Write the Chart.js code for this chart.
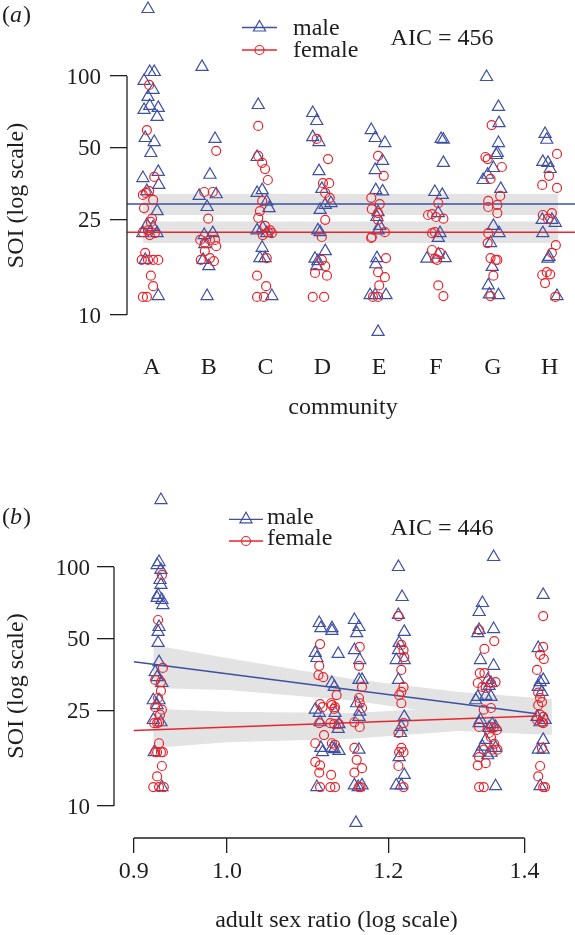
<!DOCTYPE html>
<html>
<head>
<meta charset="utf-8">
<script src="https://cdn.jsdelivr.net/npm/chart.js@4.4.1/dist/chart.umd.min.js"></script>
<style>
  html, body { margin: 0; padding: 0; background: #fff; }
  #wrap { position: relative; width: 575px; height: 935px; overflow: hidden; }
  canvas { position: absolute; left: 0; display: block; }
  #panelA { top: 0; }
  #panelB { top: 440px; }
</style>
</head>
<body>
<div id="wrap">
  <canvas id="panelA" width="575" height="440"></canvas>
  <canvas id="panelB" width="575" height="495"></canvas>
</div>
<script>
// ---- data ----
const communities = ['A', 'B', 'C', 'D', 'E', 'F', 'G', 'H'];
const soiTicks = [10, 25, 50, 100];
const ratioTicks = [0.9, 1.0, 1.2, 1.4];

// panel (a): [community position (1 = A ... 8 = H, with jitter), SOI]
const maleByCommunity = [
  [0.93,190.6],[0.96,103.9],[1.04,103.9],[0.86,95.3],[1.02,87.4],[0.93,81.7],[0.96,74.9],[0.86,72.1],[1.11,73.5],[1.09,67.4],[0.88,55.0],[1.04,52.9],[0.98,47.6],[1.11,39.7],[0.84,37.4],[1.12,35.0],[0.91,33.0],[1.09,27.2],[0.91,23.8],[1.02,23.3],[0.84,22.0],[1.09,22.0],[0.88,17.0],[1.11,12.0],
  [1.88,109.1],[2.11,54.5],[2.02,38.6],[1.83,31.5],[2.13,32.0],[1.97,28.3],[1.92,21.6],[2.07,22.0],[1.93,19.8],[1.90,17.0],[2.00,16.0],[1.97,12.0],
  [2.87,75.6],[2.85,45.8],[2.85,32.4],[2.94,33.3],[3.02,29.8],[3.06,28.0],[2.85,22.6],[2.95,23.1],[3.02,22.0],[2.94,19.1],[2.90,17.3],[2.99,17.3],[3.11,12.0],
  [3.83,70.0],[3.90,64.8],[3.83,55.5],[3.94,52.9],[3.94,40.0],[3.99,33.7],[4.15,29.4],[3.96,27.5],[4.05,28.9],[3.92,22.6],[3.96,22.2],[4.05,18.5],[3.87,17.2],[3.92,16.8],[3.90,16.0],
  [4.86,59.4],[4.93,55.0],[5.10,52.4],[5.06,44.1],[4.93,40.4],[4.94,33.3],[5.06,32.9],[4.98,26.9],[4.96,25.7],[5.01,23.6],[4.98,22.6],[4.96,17.3],[4.94,16.3],[4.84,12.1],[4.93,12.1],[5.12,12.1],[4.98,8.5],
  [6.09,54.5],[6.13,54.1],[6.13,43.3],[5.98,32.7],[6.11,31.8],[6.04,26.7],[6.07,22.0],[6.04,21.0],[5.84,17.2],[6.04,17.9],[6.16,17.3],
  [6.89,99.0],[7.10,74.2],[7.11,63.5],[7.10,52.4],[7.08,47.6],[7.06,46.7],[7.01,41.2],[6.83,36.7],[6.91,38.6],[7.14,33.7],[7.01,23.6],[7.11,22.0],[6.96,20.0],[6.99,15.9],[6.92,13.3],[6.94,12.2],[7.10,12.1],
  [7.92,57.2],[7.95,54.1],[7.88,43.7],[7.97,43.3],[8.01,40.8],[7.87,25.0],[8.04,25.0],[8.10,24.3],[7.88,22.0],[7.99,17.5],[7.97,17.2],[8.13,12.0]
];
const femaleByCommunity = [
  [0.95,91.7],[0.91,59.4],[1.04,37.8],[0.95,33.0],[0.89,32.4],[0.84,31.8],[1.02,30.3],[0.86,28.0],[1.00,25.3],[0.98,24.5],[0.84,22.2],[0.93,22.6],[1.05,22.0],[0.96,21.6],[0.88,18.2],[0.82,17.0],[0.93,17.0],[1.02,17.0],[1.11,17.0],[0.98,14.6],[1.02,13.2],[0.84,11.9],[0.91,11.9],
  [2.13,48.6],[1.92,32.7],[2.07,32.7],[1.99,25.3],[1.85,20.6],[1.93,20.0],[2.02,20.6],[2.11,20.6],[2.13,19.4],[1.93,18.5],[1.86,17.0],[2.02,17.3],[2.09,16.8],
  [2.87,61.8],[2.87,46.3],[2.94,43.3],[2.99,40.8],[3.04,36.7],[2.94,30.0],[2.90,27.2],[2.87,25.5],[2.99,23.6],[3.08,22.6],[3.11,22.0],[2.95,21.6],[3.04,22.2],[3.02,17.3],[2.85,14.6],[3.01,13.2],[2.85,11.9],[2.97,11.9],
  [3.90,54.5],[4.10,44.9],[4.01,35.6],[4.12,35.6],[4.05,32.4],[4.13,30.9],[4.05,25.0],[3.99,21.2],[3.99,17.0],[4.05,16.0],[3.87,15.0],[4.08,14.6],[3.83,11.9],[4.03,11.9],
  [4.98,46.3],[5.08,38.2],[4.86,30.9],[5.01,29.1],[4.87,27.7],[4.98,26.7],[4.98,25.0],[5.10,22.2],[4.87,21.2],[4.86,21.0],[5.12,17.3],[4.98,15.1],[5.10,14.4],[5.00,13.3],[4.89,11.9],[4.98,11.9],
  [6.04,29.4],[5.86,26.2],[5.93,26.4],[6.00,25.7],[6.13,25.3],[5.93,22.0],[5.98,22.2],[5.93,18.7],[6.07,18.2],[6.02,17.0],[5.98,17.2],[6.04,13.3],[6.13,12.0],
  [6.98,62.3],[6.87,45.8],[6.91,44.9],[7.16,41.6],[6.96,37.1],[7.13,31.5],[6.92,30.0],[7.08,28.9],[6.92,28.3],[7.08,26.7],[6.92,22.0],[6.91,20.0],[6.96,17.3],[7.05,17.0],[7.08,17.0],[7.01,14.6],[6.96,12.0],
  [8.13,47.2],[7.99,38.2],[7.87,35.0],[8.13,34.0],[7.88,26.2],[8.04,26.7],[7.97,25.3],[8.11,19.6],[8.04,18.2],[7.87,14.7],[7.95,15.1],[8.01,14.8],[7.92,13.6],[8.10,11.9]
];
// panel (a) model: fitted level and 95% band (male, female)
const commFitSpan = [0.56, 8.45];
const commBandSpan = [0.84, 8.15];
const commFitMale = 29.1, commFitFemale = 22.2;
const commBandMale = [26.2, 32.1];
const commBandFemale = [20.0, 24.6];

// panel (b): [adult sex ratio (with jitter), SOI]
const maleByRatio = [
  [0.928,190.6],[0.926,104.9],[0.924,101.9],[0.928,97.2],[0.927,88.2],[0.928,84.1],[0.925,76.4],[0.924,74.2],[0.929,72.8],[0.930,69.3],[0.926,56.1],[0.925,53.5],[0.925,48.1],[0.926,40.0],[0.922,36.3],[0.924,34.6],[0.929,32.7],[0.920,27.7],[0.926,27.7],[0.924,26.4],[0.920,22.9],[0.928,22.4],[0.921,16.8],[0.929,12.0],
  [1.110,58.3],[1.112,55.5],[1.105,43.7],[1.107,41.6],[1.105,25.3],[1.110,24.5],[1.111,22.4],[1.112,17.5],[1.114,16.8],[1.107,12.0],
  [1.126,55.5],[1.126,54.0],[1.134,43.3],[1.126,32.7],[1.129,31.5],[1.130,24.5],[1.135,22.0],[1.134,21.0],[1.126,17.5],[1.129,17.3],[1.135,17.0],
  [1.155,60.0],[1.161,56.1],[1.158,52.9],[1.155,44.9],[1.162,40.8],[1.161,33.7],[1.165,33.7],[1.158,26.9],[1.162,24.8],[1.161,23.6],[1.161,17.2],[1.155,12.2],[1.165,12.2],[1.160,12.0],[1.157,8.5],
  [1.214,100.0],[1.219,74.9],[1.214,63.0],[1.222,53.5],[1.215,48.1],[1.214,44.9],[1.211,40.8],[1.222,40.8],[1.214,33.7],[1.222,23.6],[1.218,21.4],[1.217,20.2],[1.215,16.0],[1.222,13.5],[1.211,12.2],[1.218,12.2],
  [1.335,70.7],[1.330,64.8],[1.330,54.5],[1.328,52.9],[1.332,40.8],[1.343,33.7],[1.328,28.6],[1.325,27.7],[1.340,28.9],[1.330,22.2],[1.332,22.9],[1.340,18.9],[1.335,17.7],[1.330,16.7],[1.343,16.3],
  [1.352,110.1],[1.352,55.0],[1.352,38.6],[1.348,32.7],[1.345,31.8],[1.348,28.6],[1.350,22.0],[1.355,21.4],[1.345,21.2],[1.355,17.5],[1.348,16.7],[1.355,12.1],
  [1.430,76.4],[1.422,45.8],[1.430,33.7],[1.425,33.0],[1.422,31.5],[1.428,30.0],[1.420,23.6],[1.433,22.9],[1.425,22.4],[1.430,18.9],[1.422,17.2],[1.430,17.2],[1.425,12.1]
];
const femaleByRatio = [
  [0.929,92.6],[0.925,60.0],[0.930,37.8],[0.922,33.7],[0.928,33.0],[0.928,30.3],[0.925,28.3],[0.922,25.9],[0.929,25.3],[0.927,24.1],[0.924,22.2],[0.926,22.4],[0.921,22.2],[0.926,18.3],[0.924,16.8],[0.928,16.8],[0.922,16.8],[0.930,16.8],[0.929,14.7],[0.924,13.3],[0.920,12.0],[0.926,12.0],[0.931,12.0],
  [1.111,47.6],[1.110,38.6],[1.109,35.3],[1.115,34.6],[1.111,26.7],[1.114,25.9],[1.110,22.2],[1.116,19.8],[1.105,18.3],[1.105,15.3],[1.111,14.8],[1.110,13.8],[1.111,12.0],
  [1.132,29.1],[1.126,26.4],[1.125,26.9],[1.129,25.5],[1.130,25.9],[1.124,22.2],[1.129,22.0],[1.135,22.0],[1.126,18.3],[1.130,18.0],[1.125,13.5],[1.124,12.0],[1.130,12.0],
  [1.162,46.3],[1.161,38.6],[1.165,31.5],[1.161,28.3],[1.162,26.9],[1.165,25.7],[1.155,22.4],[1.162,21.4],[1.155,17.5],[1.158,15.6],[1.165,14.4],[1.155,13.8],[1.161,12.0],[1.163,12.0],
  [1.214,62.3],[1.218,47.2],[1.221,44.9],[1.222,42.0],[1.218,37.1],[1.221,31.5],[1.218,30.0],[1.215,29.1],[1.218,26.9],[1.221,22.2],[1.214,20.2],[1.218,17.5],[1.215,16.8],[1.221,16.8],[1.214,14.7],[1.221,12.0],
  [1.330,54.5],[1.338,45.4],[1.331,36.0],[1.338,36.0],[1.328,32.7],[1.335,31.5],[1.340,31.2],[1.337,25.3],[1.330,21.4],[1.337,17.2],[1.330,16.0],[1.340,15.1],[1.328,14.8],[1.330,12.0],[1.337,12.0],
  [1.353,49.0],[1.355,33.0],[1.348,32.7],[1.348,25.7],[1.348,21.4],[1.352,21.2],[1.357,20.8],[1.348,19.4],[1.345,20.2],[1.353,18.2],[1.350,17.2],[1.358,17.2],
  [1.430,62.3],[1.430,46.3],[1.425,42.9],[1.431,41.2],[1.420,37.1],[1.422,29.8],[1.425,28.3],[1.428,27.2],[1.422,26.4],[1.425,24.1],[1.430,23.6],[1.420,22.9],[1.428,22.4],[1.430,22.2],[1.428,17.5],[1.425,14.7],[1.422,13.3],[1.430,12.0],[1.433,12.0]
];
// panel (b) model: regression lines and 95% bands
const ratioFitX = [0.9, 1.42];
const ratioFitMale = [40.1, 24.3];
const ratioFitFemale = [20.7, 23.8];
const ratioBandX = [0.92, 1.0, 1.152, 1.3, 1.444];
const ratioBandMaleHi = [47.2, 41.6, 34.0, 30.0, 28.0];
const ratioBandMaleLo = [31.2, 30.6, 27.6, 23.8, 20.2];
const ratioBandFemaleHi = [25.5, 24.8, 24.5, 25.9, 27.2];
const ratioBandFemaleLo = [17.5, 18.5, 19.1, 20.6, 19.8];

// ---- style ----
const BLUE = '#3d50a2';
const RED = '#e8262d';
const BAND = '#e3e3e3';
const INK = '#1e1e1e';
const SERIF = '"Liberation Serif", "Times New Roman", serif';

const toXY = pairs => pairs.map(p => ({ x: p[0], y: p[1] }));
const flat = (xs, v) => xs.map(x => ({ x: x, y: v }));
const zip = (xs, ys) => xs.map((x, i) => ({ x: x, y: ys[i] }));

function points(label, pairs, color, style, r, order) {
  return {
    label: label, data: toXY(pairs), showLine: false, order: order,
    pointStyle: style, pointRadius: r, pointHoverRadius: r,
    pointBorderColor: color, pointBackgroundColor: 'rgba(0,0,0,0)', pointBorderWidth: 1.2,
    clip: false
  };
}
function line(data, color) {
  return { data: data, showLine: true, borderColor: color, borderWidth: 1.5, pointRadius: 0, order: 2, clip: false };
}
function bandEdge(data, fill) {
  return { data: data, showLine: true, borderWidth: 0, borderColor: 'rgba(0,0,0,0)', pointRadius: 0,
           fill: fill, backgroundColor: BAND, order: 3 };
}

function marker(ctx, style, x, y, r) {
  ctx.beginPath();
  if (style === 'triangle') {
    for (let k = 0; k < 3; k++) {
      const a = k * 2 * Math.PI / 3;
      const px = x + Math.sin(a) * r, py = y - Math.cos(a) * r;
      k === 0 ? ctx.moveTo(px, py) : ctx.lineTo(px, py);
    }
    ctx.closePath();
  } else {
    ctx.arc(x, y, r, 0, Math.PI * 2);
  }
  ctx.stroke();
}

// R style axis lines: only between first and last tick
const rAxes = {
  id: 'rAxes',
  afterDraw(chart, args, o) {
    const { ctx, chartArea, scales } = chart;
    ctx.save();
    ctx.strokeStyle = INK;
    ctx.lineWidth = 1.3;
    ctx.beginPath();
    ctx.moveTo(chartArea.left, scales.y.getPixelForValue(soiTicks[0]));
    ctx.lineTo(chartArea.left, scales.y.getPixelForValue(soiTicks[soiTicks.length - 1]));
    ctx.stroke();
    if (o.xTicks) {
      ctx.beginPath();
      ctx.moveTo(scales.x.getPixelForValue(o.xTicks[0]), chartArea.bottom);
      ctx.lineTo(scales.x.getPixelForValue(o.xTicks[o.xTicks.length - 1]), chartArea.bottom);
      ctx.stroke();
    }
    ctx.restore();
  }
};

// panel tag, legend, AIC and y title
const notes = {
  id: 'notes',
  afterDraw(chart, args, o) {
    const ctx = chart.ctx;
    const f = '24px ' + SERIF;
    ctx.save();
    ctx.fillStyle = INK;
    ctx.textBaseline = 'alphabetic';
    ctx.textAlign = 'left';
    let x = 2;
    ctx.font = f;
    ctx.fillText('(', x, o.tagBase); x += ctx.measureText('(').width;
    ctx.font = 'italic ' + f;
    ctx.fillText(o.tag, x, o.tagBase); x += ctx.measureText(o.tag).width + 1;
    ctx.font = f;
    ctx.fillText(')', x, o.tagBase);

    o.legend.forEach(it => {
      ctx.strokeStyle = it.color;
      ctx.lineWidth = 1.3;
      ctx.beginPath();
      ctx.moveTo(o.legendX[0], it.y);
      ctx.lineTo(o.legendX[1], it.y);
      ctx.stroke();
      ctx.lineWidth = 1.2;
      marker(ctx, it.style, (o.legendX[0] + o.legendX[1]) / 2, it.y, it.r);
      ctx.fillText(it.text, o.legendTextX, it.base);
    });

    ctx.textAlign = 'center';
    ctx.fillText(o.aic, o.aicX, o.aicBase);

    ctx.translate(23, o.yTitleMid);
    ctx.rotate(-Math.PI / 2);
    ctx.fillText('SOI (log scale)', 0, 0);
    ctx.restore();
  }
};

const tickFont = { family: SERIF, size: 24 };
const yTickFont = { family: SERIF, size: 23 };

function yScale(min, max, width, pad) {
  return {
    type: 'logarithmic', min: min, max: max,
    afterBuildTicks: s => { s.ticks = soiTicks.map(v => ({ value: v })); },
    ticks: { callback: v => String(v), font: yTickFont, color: INK, padding: pad, autoSkip: false, labelOffset: 1.5 },
    grid: { drawOnChartArea: false, drawTicks: true, tickLength: 17, color: INK, lineWidth: 1.3 },
    border: { display: false },
    afterFit: s => { s.width = width; s.paddingTop = 0; s.paddingBottom = 0; }
  };
}

// ---- panel (a) ----
new Chart(document.getElementById('panelA'), {
  type: 'scatter',
  data: {
    datasets: [
      points('female', femaleByCommunity, RED, 'circle', 4.5, 0),
      points('male', maleByCommunity, BLUE, 'triangle', 7, 1),
      line(flat(commFitSpan, commFitMale), BLUE),
      line(flat(commFitSpan, commFitFemale), RED),
      bandEdge(flat(commBandSpan, commBandMale[1]), '+1'),
      bandEdge(flat(commBandSpan, commBandMale[0]), false),
      bandEdge(flat(commBandSpan, commBandFemale[1]), '+1'),
      bandEdge(flat(commBandSpan, commBandFemale[0]), false)
    ]
  },
  options: {
    responsive: false, animation: false, devicePixelRatio: 1,
    layout: { padding: { top: 2, right: 16, left: 0, bottom: 0 }, autoPadding: false },
    plugins: {
      legend: { display: false }, tooltip: { enabled: false },
      rAxes: {},
      notes: {
        tag: 'a', tagBase: 21.7,
        legendX: [242, 277], legendTextX: 293,
        legend: [
          { text: 'male', color: BLUE, style: 'triangle', r: 7, y: 27.5, base: 35 },
          { text: 'female', color: RED, style: 'circle', r: 4.5, y: 50, base: 56.5 }
        ],
        aic: 'AIC = 456', aicX: 442, aicBase: 45,
        yTitleMid: 195.5
      }
    },
    scales: {
      x: {
        type: 'linear', min: 0.56, max: 8.1655,
        afterBuildTicks: s => { s.ticks = communities.map((c, i) => ({ value: i + 1 })); },
        ticks: { callback: v => communities[Math.round(v) - 1], font: tickFont, color: INK, padding: 8, autoSkip: false, maxRotation: 0 },
        grid: { display: false, drawTicks: false },
        border: { display: false },
        title: { display: true, text: 'community', font: tickFont, color: INK, padding: { top: 0, bottom: 18 } },
        afterFit: s => { s.height = 95; s.paddingLeft = 0; s.paddingRight = 0; }
      },
      y: yScale(7.489, 203.9, 127, 9)
    }
  },
  plugins: [rAxes, notes]
});

// ---- panel (b) ----
new Chart(document.getElementById('panelB'), {
  type: 'scatter',
  data: {
    datasets: [
      points('female', femaleByRatio, RED, 'circle', 4.5, 0),
      points('male', maleByRatio, BLUE, 'triangle', 7, 1),
      line(zip(ratioFitX, ratioFitMale), BLUE),
      line(zip(ratioFitX, ratioFitFemale), RED),
      bandEdge(zip(ratioBandX, ratioBandMaleHi), '+1'),
      bandEdge(zip(ratioBandX, ratioBandMaleLo), false),
      bandEdge(zip(ratioBandX, ratioBandFemaleHi), '+1'),
      bandEdge(zip(ratioBandX, ratioBandFemaleLo), false)
    ]
  },
  options: {
    responsive: false, animation: false, devicePixelRatio: 1,
    layout: { padding: { top: 55, right: 16, left: 0, bottom: 0 }, autoPadding: false },
    plugins: {
      legend: { display: false }, tooltip: { enabled: false },
      rAxes: { xTicks: ratioTicks },
      notes: {
        tag: 'b', tagBase: 84,
        legendX: [229, 263], legendTextX: 267,
        legend: [
          { text: 'male', color: BLUE, style: 'triangle', r: 7, y: 79.3, base: 83.5 },
          { text: 'female', color: RED, style: 'circle', r: 4.5, y: 101, base: 105 }
        ],
        aic: 'AIC = 446', aicX: 442, aicBase: 95,
        yTitleMid: 246
      }
    },
    scales: {
      x: {
        type: 'logarithmic', min: 0.8841, max: 1.4558,
        afterBuildTicks: s => { s.ticks = ratioTicks.map(v => ({ value: v })); },
        ticks: { callback: v => Number(v).toFixed(1), font: tickFont, color: INK, padding: 4, autoSkip: false, maxRotation: 0 },
        grid: { drawOnChartArea: false, drawTicks: true, tickLength: 15, color: INK, lineWidth: 1.3 },
        border: { display: false },
        title: { display: true, text: 'adult sex ratio (log scale)', font: tickFont, color: INK, padding: { top: 0, bottom: 0 } },
        afterFit: s => { s.height = 97; s.paddingLeft = 0; s.paddingRight = 0; }
      },
      y: yScale(7.345, 200.1, 114, 7)
    }
  },
  plugins: [rAxes, notes]
});
</script>
</body>
</html>
